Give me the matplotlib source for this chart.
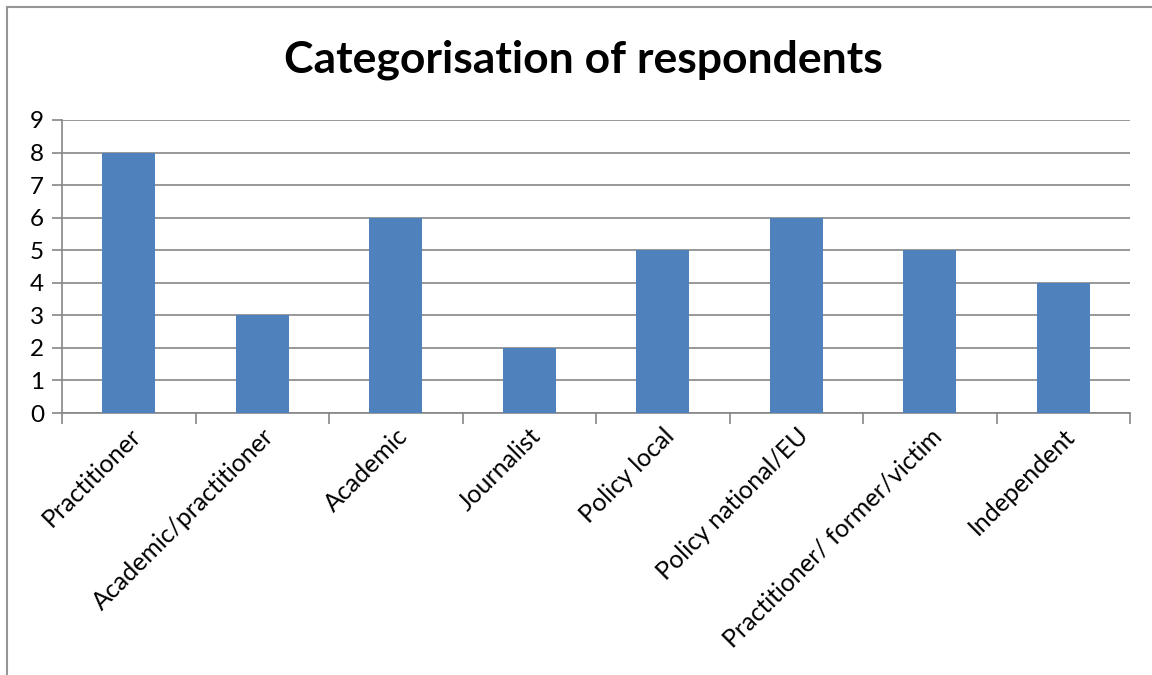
import matplotlib.pyplot as plt
from matplotlib.lines import Line2D
import numpy as np

categories = ['Practitioner', 'Academic/practitioner', 'Academic', 'Journalist',
              'Policy local', 'Policy national/EU', 'Practitioner/ former/victim',
              'Independent']
counts = [8, 3, 6, 2, 5, 6, 5, 4]
y_ticks = list(range(0, 10))

plt.rcParams['font.family'] = ['Lato', 'DejaVu Sans']

fig = plt.figure(figsize=(11.52, 6.75), dpi=100)
ax = fig.add_axes([62 / 1152, 1 - 413 / 675, (1130 - 62) / 1152, (413 - 120) / 675])

x = np.arange(len(categories))
ax.bar(x, counts, width=0.4, color='#4F81BD', zorder=3)

ax.set_xlim(-0.5, len(categories) - 0.5)
ax.set_ylim(0, 9)
ax.set_yticks(y_ticks)
ax.set_yticklabels([str(v) for v in y_ticks], fontsize=17.5)
ax.yaxis.grid(True, color='#868686', linewidth=1.2, zorder=0)

# category labels at bar centres, tick marks at boundaries
ax.set_xticks(x)
ax.set_xticklabels(categories, rotation=45, ha='right', va='top',
                   rotation_mode='anchor', fontsize=18)
ax.tick_params(axis='x', length=0, pad=8)
ax.set_xticks(np.arange(-0.5, len(categories)), minor=True)
ax.tick_params(axis='x', which='minor', length=8, color='#868686', width=1.2)
ax.tick_params(axis='y', length=7, color='#868686', width=1.2, pad=6)

for s in ['top', 'right']:
    ax.spines[s].set_visible(False)
for s in ['left', 'bottom']:
    ax.spines[s].set_color('#868686')
    ax.spines[s].set_linewidth(1.2)

fig.text(583 / 1152, 1 - 60 / 675, 'Categorisation of respondents',
         ha='center', va='center', fontsize=32, fontweight='bold')

# chart frame (cropped on the right and bottom)
fig.add_artist(Line2D([7 / 1152, 1], [1 - 7 / 675] * 2, color='#969696', linewidth=1.5))
fig.add_artist(Line2D([7 / 1152] * 2, [0, 1 - 7 / 675], color='#969696', linewidth=1.5))

fig.savefig('out.png', dpi=100)
